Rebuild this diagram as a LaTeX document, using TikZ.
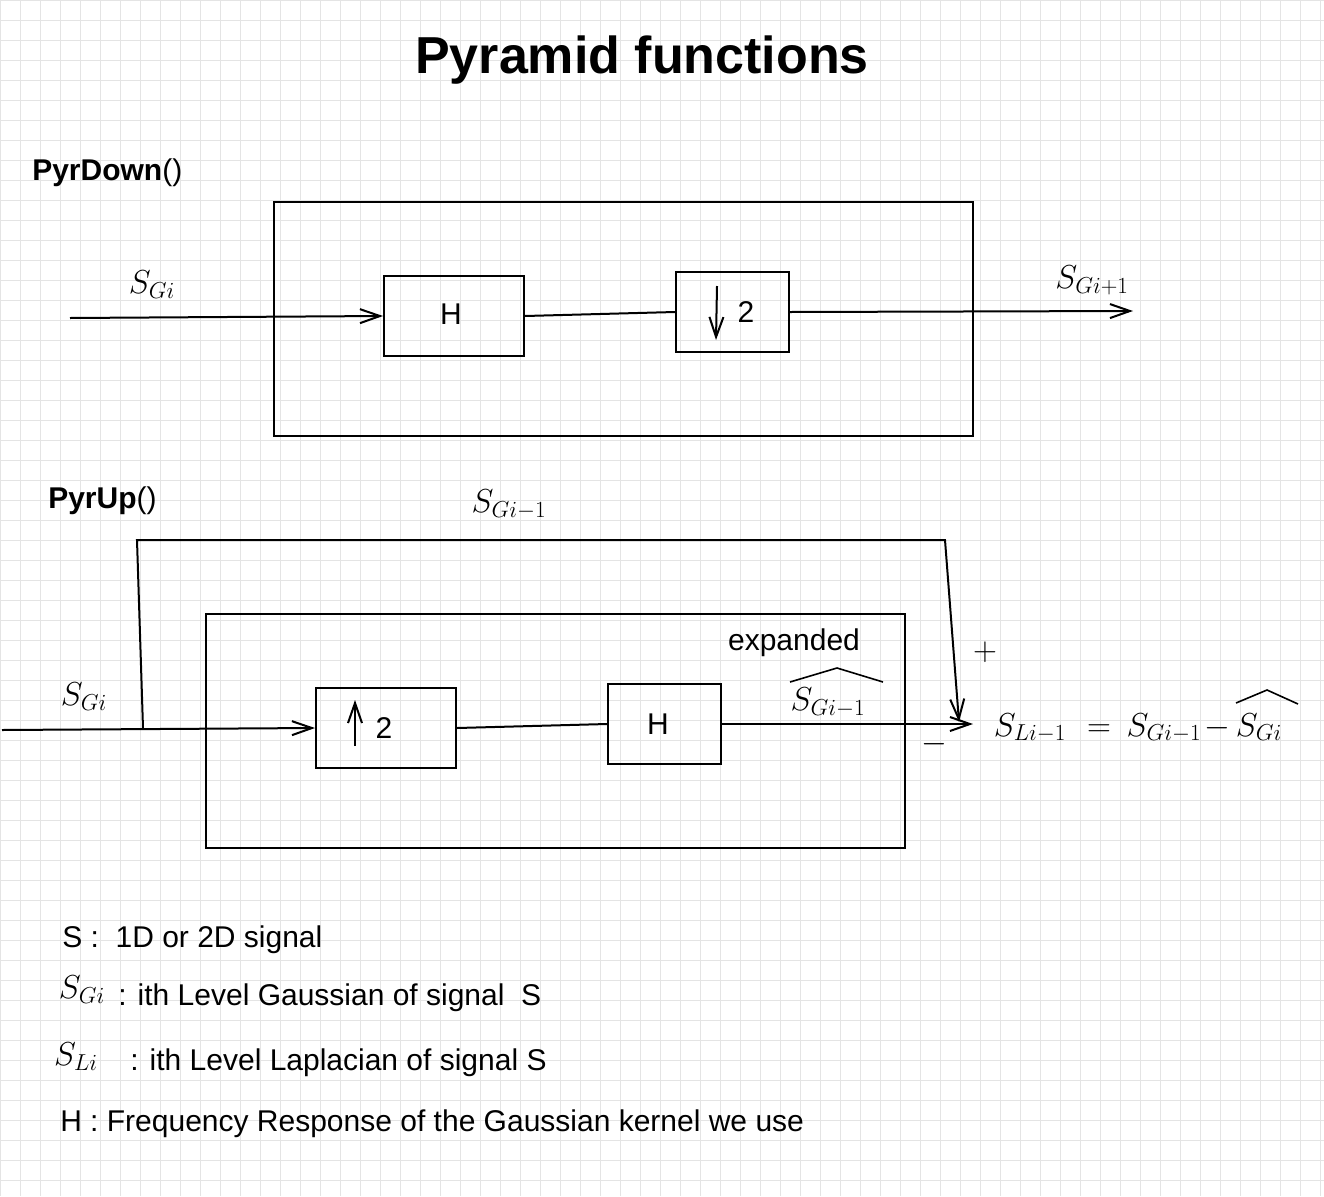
\documentclass[tikz,border=0pt]{standalone}
\usepackage[no-math]{fontspec}
\setmainfont{Liberation Sans}
\usetikzlibrary{arrows.meta,fit}
\definecolor{gridc}{HTML}{E4E4E4}
\begin{document}
\begin{tikzpicture}[x=0.75pt,y=-0.75pt,
  blk/.style={draw, line width=1.5pt, inner sep=0pt},
  conn/.style={line width=1.5pt},
  arr/.style={line width=1.5pt, -{Straight Barb[length=15pt,width=10.5pt]}},
  txt/.style={font=\fontsize{22.5}{27}\selectfont, inner sep=0pt},
  mth/.style={font=\fontsize{24}{28}\selectfont, inner sep=0pt},
  hatline/.style={line width=1.2pt}]
\useasboundingbox (0,0) rectangle (1324,1196);
\fill[white] (0,0) rectangle (1324,1196);
\foreach \i in {0,20,...,1320} \draw[gridc, line width=0.75pt] (\i,0) -- (\i,1196);
\foreach \j in {0,20,...,1180} \draw[gridc, line width=0.75pt] (0,\j) -- (1324,\j);

% title
\node[font=\fontsize{39}{46}\selectfont\bfseries] (title) at (642,60) {Pyramid functions};

% ---------- PyrDown ----------
\node[txt, anchor=west] (pdlab) at (32,173) {\textbf{PyrDown}()};
\node[blk, fit={(274,202) (973,436)}] (pd) {};
\node[blk, fit={(384,276) (524,356)}] (h1) {};
\node[txt] (h1t) at (451,314) {H};
\node[blk, fit={(676,272) (789,352)}] (dn) {};
\node[txt] (dn2) at (746,312) {2};
\coordinate (dna) at (717,286);
\coordinate (dnb) at (716,340);
\draw[arr] (dna) -- (dnb);

\coordinate (in1) at (70,318);
\coordinate (out1) at (1133,311);
\draw[arr] (in1) -- (h1.west);
\draw[conn] (h1.east) -- (dn.west);
\draw[arr] (dn.east) -- (out1);
\node[mth] (sgi1) at (152,285) {$S_{Gi}$};
\node[mth] (sgo) at (1092,280) {$S_{Gi+1}$};

% ---------- PyrUp ----------
\node[txt, anchor=west] (pulab) at (48,501) {\textbf{PyrUp}()};
\node[mth] (sgm) at (509,505) {$S_{Gi-1}$};
\node[blk, fit={(206,614) (905,848)}] (pu) {};
\node[blk, fit={(316,688) (456,768)}] (up) {};
\node[txt] (up2) at (384,728) {2};
\coordinate (upa) at (355,746);
\coordinate (upb) at (355,700);
\draw[arr] (upa) -- (upb);
\node[blk, fit={(608,684) (721,764)}] (h2) {};
\node[txt] (h2t) at (658,724) {H};

\coordinate (in2) at (2,730);
\coordinate (br) at (143,728);
\coordinate (fb1) at (137,540);
\coordinate (fb2) at (945,540);
\coordinate (sumt) at (959,722);
\coordinate (suml) at (973,724);
\draw[arr] (in2) -- (up.west);
\draw[arr] (br) -- (fb1) -- (fb2) -- (sumt);
\draw[conn] (up.east) -- (h2.west);
\draw[arr] (h2.east) -- (suml);
\node[mth] (sgi2) at (84,697) {$S_{Gi}$};

\node[txt] (expd) at (794,643) {expanded};
\node[mth] (sgh) at (828,703) {$S_{Gi-1}$};
\draw[hatline] (790,682) -- (837,668) -- (883,682);
\node[mth] (plus) at (985,652) {$+$};
\node[mth] (minus) at (934,744) {$-$};

% equation
\node[mth, anchor=base] (e1) at (1030,736) {$S_{Li-1}$};
\node[mth, anchor=base] (e2) at (1099,736) {$=$};
\node[mth, anchor=base] (e3) at (1164,736) {$S_{Gi-1}$};
\node[mth, anchor=base] (e4) at (1217,736) {$-$};
\node[mth, anchor=base] (e5) at (1259,736) {$S_{Gi}$};
\draw[hatline] (1236,703) -- (1267,690) -- (1298,704);

% legend
\node[txt, anchor=west] (l1) at (62,940) {S :\ \ 1D or 2D signal};
\node[mth] (l2s) at (82,990) {$S_{Gi}$};
\node[txt, anchor=west] (l2) at (118,998) {: ith Level Gaussian of signal\ \ S};
\node[mth] (l3s) at (76,1057) {$S_{Li}$};
\node[txt, anchor=west] (l3) at (130,1063) {: ith Level Laplacian of signal S};
\node[txt, anchor=west] (l4) at (60,1124) {H : Frequency Response of the Gaussian kernel we use};
\end{tikzpicture}
\end{document}
